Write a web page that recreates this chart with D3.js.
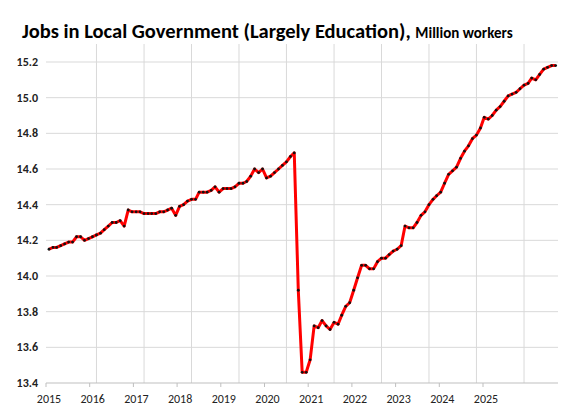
<!DOCTYPE html>
<html>
<head>
<meta charset="utf-8">
<script src="https://cdn.jsdelivr.net/npm/d3@7"></script>
<style>
  body { margin: 0; background: #fff; font-family: Calibri, Carlito, "Liberation Sans", Arial, sans-serif; }
</style>
</head>
<body>
<svg id="chart" width="565" height="416"></svg>
<script>
// monthly values, Jan 2015 .. Sep 2025 (million workers)
const startYear = 2015;
const jobs = [
  14.15,14.16,14.16,14.17,14.18,14.19,14.19,14.22,14.22,14.20,14.21,14.22,
  14.23,14.24,14.26,14.28,14.30,14.30,14.31,14.28,14.37,14.36,14.36,14.36,
  14.35,14.35,14.35,14.35,14.36,14.36,14.37,14.38,14.34,14.39,14.40,14.42,
  14.43,14.43,14.47,14.47,14.47,14.48,14.50,14.47,14.49,14.49,14.49,14.50,
  14.52,14.52,14.53,14.56,14.60,14.58,14.60,14.55,14.56,14.58,14.60,14.62,
  14.64,14.67,14.69,13.92,13.46,13.46,13.53,13.72,13.71,13.75,13.72,13.70,
  13.74,13.73,13.78,13.83,13.85,13.92,13.99,14.06,14.06,14.04,14.04,14.08,
  14.10,14.10,14.12,14.14,14.15,14.17,14.28,14.27,14.27,14.30,14.34,14.36,
  14.40,14.43,14.45,14.47,14.52,14.57,14.59,14.61,14.66,14.70,14.73,14.77,
  14.79,14.83,14.89,14.88,14.90,14.93,14.95,14.98,15.01,15.02,15.03,15.05,
  15.07,15.08,15.11,15.10,15.13,15.16,15.17,15.18,15.18
];
const yearLabels = ['2015','2016','2017','2018','2019','2020','2021','2022','2023','2024','2025'];
const yTicks = [13.4,13.6,13.8,14.0,14.2,14.4,14.6,14.8,15.0,15.2];

const data = jobs.map((v, i) => ({ date: new Date(startYear, i, 1), value: v }));

const svg = d3.select('#chart');
const plotLeft = 49, plotRight = 558, plotTop = 44, plotBottom = 383;

const x = d3.scaleTime()
  .domain([new Date(2015, 0, 1), new Date(2026, 0, 1)])
  .range([plotLeft, plotLeft + 11 * 47.5]);
const y = d3.scaleLinear().domain([13.4, 15.2]).range([plotBottom, 62]);
// Excel-style category label positions (do not line up with the gridlines)
const xLab = d3.scalePoint().domain(yearLabels).range([46, 483]);

svg.append('defs').append('clipPath').attr('id', 'clip')
  .append('rect').attr('x', plotLeft - 5).attr('y', plotTop)
  .attr('width', plotRight - plotLeft + 5).attr('height', plotBottom - plotTop + 5);

// horizontal gridlines
svg.append('g').selectAll('line').data(yTicks.slice(1)).join('line')
  .attr('x1', plotLeft - 3).attr('x2', plotRight)
  .attr('y1', d => y(d)).attr('y2', d => y(d))
  .attr('stroke', '#d9d9d9').attr('stroke-width', 1);

// vertical gridlines
svg.append('g').selectAll('line').data(d3.range(2016, 2026)).join('line')
  .attr('x1', d => x(new Date(d, 0, 1))).attr('x2', d => x(new Date(d, 0, 1)))
  .attr('y1', plotTop).attr('y2', plotBottom)
  .attr('stroke', '#d9d9d9').attr('stroke-width', 1);

// y labels
svg.append('g').selectAll('text').data(yTicks).join('text')
  .attr('x', 38).attr('y', d => y(d) + 4)
  .attr('text-anchor', 'end')
  .attr('font-size', 12).attr('font-weight', 'bold').attr('fill', '#222')
  .text(d => d.toFixed(1));

// x axis
svg.append('line').attr('x1', plotLeft - 3).attr('x2', plotRight).attr('y1', plotBottom).attr('y2', plotBottom)
  .attr('stroke', '#bfbfbf');
svg.append('g').selectAll('line').data(yearLabels).join('line')
  .attr('x1', d => xLab(d)).attr('x2', d => xLab(d))
  .attr('y1', plotBottom).attr('y2', plotBottom + 4).attr('stroke', '#bfbfbf');
svg.append('g').selectAll('text').data(yearLabels).join('text')
  .attr('x', d => xLab(d) + 3).attr('y', plotBottom + 20)
  .attr('text-anchor', 'middle')
  .attr('font-size', 12).attr('fill', '#222')
  .text(d => d);

// line + markers
const g = svg.append('g').attr('clip-path', 'url(#clip)');
g.append('path').datum(data)
  .attr('fill', 'none').attr('stroke', '#ff0000').attr('stroke-width', 3)
  .attr('stroke-linejoin', 'round')
  .attr('d', d3.line().x(d => x(d.date)).y(d => y(d.value)));
g.selectAll('circle').data(data).join('circle')
  .attr('cx', d => x(d.date)).attr('cy', d => y(d.value))
  .attr('r', 1.4).attr('fill', '#111');

// title
const t = svg.append('text').attr('x', 22).attr('y', 38).attr('fill', '#000').attr('font-weight', 'bold');
t.append('tspan').attr('font-size', 20.5).text('Jobs in Local Government (Largely Education), ');
t.append('tspan').attr('font-size', 15).text('Million workers');
</script>
</body>
</html>
